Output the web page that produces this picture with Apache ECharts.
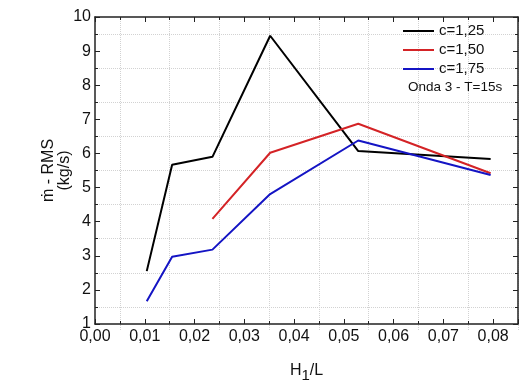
<!DOCTYPE html>
<html>
<head>
<meta charset="utf-8">
<script src="https://cdn.jsdelivr.net/npm/echarts@6/dist/echarts.min.js"></script>
<style>
  html, body { margin: 0; padding: 0; background: #fff; }
  #chart { width: 519px; height: 388px; }
</style>
</head>
<body>
<div id="chart"></div>
<script>
  // values (H1/L , m-dot RMS)
  const xC125 = [0.0104, 0.0155, 0.0236, 0.0352, 0.0529, 0.0795];
  const yC125 = [2.55, 5.67, 5.90, 9.45, 6.07, 5.84];
  const xC150 = [0.0236, 0.0352, 0.0529, 0.0795];
  const yC150 = [4.08, 6.02, 6.87, 5.42];
  const xC175 = [0.0104, 0.0155, 0.0236, 0.0352, 0.0529, 0.0795];
  const yC175 = [1.67, 2.97, 3.18, 4.81, 6.38, 5.37];
  const seriesNames = ['c=1,25', 'c=1,50', 'c=1,75'];
  const seriesColors = ['#000000', '#d42326', '#1414c4'];
  const noteText = 'Onda 3 - T=15s';

  const xMin = 0, xMax = 0.085, xStep = 0.01;
  const yMin = 1, yMax = 10, yStep = 1;

  const fontFamily = '"Liberation Sans", Arial, sans-serif';
  const axisColor = '#222';
  const gridColor = '#d2d2d2';

  // plot area in pixels
  const gridLeft = 95, gridRight = 1, gridTop = 17, gridBottom = 58;
  const plotWidth = 519 - gridLeft - gridRight;
  // second grid only for the dotted vertical lines at 0,005 ; 0,015 ...
  const gridLeft2 = gridLeft + plotWidth * (xStep / 2 - xMin) / (xMax - xMin);

  function pairs(xs, ys) {
    return xs.map((x, i) => [x, ys[i]]);
  }

  function fmtX(v) {
    return v.toFixed(2).replace('.', ',');
  }

  const chart = echarts.init(document.getElementById('chart'), null, {renderer: 'canvas'});

  const tickStyle = {
    show: true,
    inside: true,
    length: 5,
    lineStyle: {color: axisColor, width: 1}
  };
  const minorTickStyle = {
    show: true,
    splitNumber: 2,
    length: 3,
    lineStyle: {color: axisColor, width: 1}
  };
  const lineStyleAxis = {
    show: true,
    onZero: false,
    lineStyle: {color: axisColor, width: 1.5}
  };

  chart.setOption({
    animation: false,
    textStyle: {fontFamily: fontFamily},
    grid: [
      {left: gridLeft, right: gridRight, top: gridTop, bottom: gridBottom},
      {left: gridLeft2, right: gridRight, top: gridTop, bottom: gridBottom}
    ],
    legend: {
      orient: 'vertical',
      left: 403,
      top: 23,
      padding: 0,
      icon: 'rect',
      itemWidth: 31,
      itemHeight: 2,
      itemGap: 3,
      textStyle: {color: '#111', fontSize: 15, lineHeight: 16},
      data: seriesNames
    },
    title: {
      text: noteText,
      left: 408,
      top: 80,
      padding: 0,
      textStyle: {color: '#111', fontSize: 13.5, fontWeight: 'normal'}
    },
    xAxis: [{
      // bottom axis with labels
      type: 'value',
      gridIndex: 0,
      min: xMin,
      max: xMax,
      interval: xStep,
      position: 'bottom',
      name: '{a|H}{b|1}{a|/L}',
      nameLocation: 'middle',
      nameGap: 35,
      nameTextStyle: {
        rich: {
          a: {fontSize: 16, color: '#111'},
          b: {fontSize: 15, color: '#111', padding: [9, 0, 0, 0]}
        }
      },
      axisLine: lineStyleAxis,
      axisTick: tickStyle,
      minorTick: minorTickStyle,
      splitLine: {show: false},
      axisLabel: {
        color: '#111',
        fontSize: 16,
        margin: 5,
        showMaxLabel: false,
        formatter: fmtX
      }
    }, {
      // mirrored top axis
      type: 'value',
      gridIndex: 0,
      min: xMin,
      max: xMax,
      interval: xStep,
      position: 'top',
      axisLine: lineStyleAxis,
      axisTick: tickStyle,
      minorTick: minorTickStyle,
      splitLine: {show: false},
      axisLabel: {show: false}
    }, {
      // only the dotted grid lines
      type: 'value',
      gridIndex: 1,
      min: xMin + xStep / 2,
      max: xMax,
      interval: xStep,
      axisLine: {show: false},
      axisTick: {show: false},
      axisLabel: {show: false},
      splitLine: {show: true, lineStyle: {color: gridColor, type: 'dotted', width: 1}}
    }],
    yAxis: [{
      type: 'value',
      gridIndex: 0,
      min: yMin,
      max: yMax,
      interval: yStep,
      position: 'left',
      name: 'ṁ - RMS\n(kg/s)',
      nameLocation: 'middle',
      nameRotate: 90,
      nameGap: 22,
      nameMoveOverlap: false,
      nameTextStyle: {color: '#111', fontSize: 16, lineHeight: 16},
      axisLine: lineStyleAxis,
      axisTick: tickStyle,
      minorTick: minorTickStyle,
      splitLine: {show: false},
      minorSplitLine: {show: true, lineStyle: {color: gridColor, type: 'dotted', width: 1}},
      axisLabel: {color: '#111', fontSize: 16, margin: 4}
    }, {
      // mirrored right axis
      type: 'value',
      gridIndex: 0,
      min: yMin,
      max: yMax,
      interval: yStep,
      position: 'right',
      axisLine: lineStyleAxis,
      axisTick: tickStyle,
      minorTick: minorTickStyle,
      splitLine: {show: false},
      axisLabel: {show: false}
    }, {
      type: 'value',
      gridIndex: 1,
      min: yMin,
      max: yMax,
      show: false
    }],
    series: [
      pairs(xC125, yC125),
      pairs(xC150, yC150),
      pairs(xC175, yC175)
    ].map((d, i) => ({
      name: seriesNames[i],
      type: 'line',
      xAxisIndex: 0,
      yAxisIndex: 0,
      symbol: 'none',
      color: seriesColors[i],
      lineStyle: {color: seriesColors[i], width: 2},
      z: 5,
      data: d
    }))
  });
</script>
</body>
</html>
